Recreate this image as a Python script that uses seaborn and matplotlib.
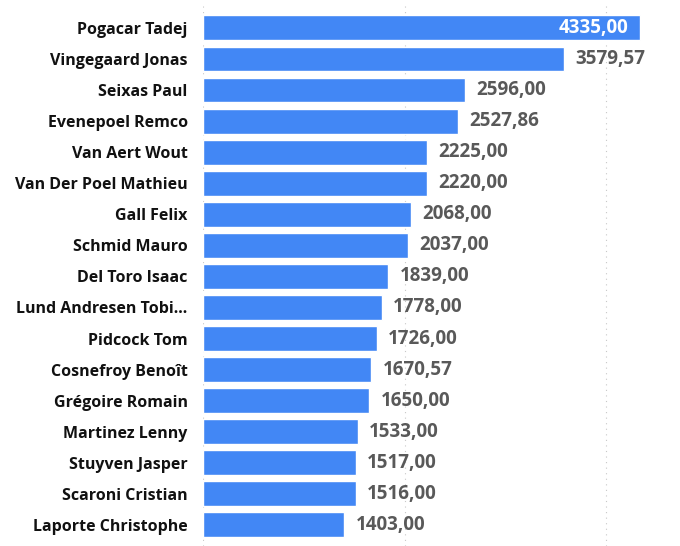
import matplotlib
matplotlib.use("Agg")
import matplotlib.pyplot as plt
import seaborn as sns
import pandas as pd

riders = [
    "Pogacar Tadej", "Vingegaard Jonas", "Seixas Paul", "Evenepoel Remco",
    "Van Aert Wout", "Van Der Poel Mathieu", "Gall Felix", "Schmid Mauro",
    "Del Toro Isaac", "Lund Andresen Tobi…", "Pidcock Tom", "Cosnefroy Benoît",
    "Grégoire Romain", "Martinez Lenny", "Stuyven Jasper", "Scaroni Cristian",
    "Laporte Christophe",
]
points = [
    4335.00, 3579.57, 2596.00, 2527.86, 2225.00, 2220.00, 2068.00, 2037.00,
    1839.00, 1778.00, 1726.00, 1670.57, 1650.00, 1533.00, 1517.00, 1516.00,
    1403.00,
]

df = pd.DataFrame({"rider": riders, "points": points})

sns.set_theme(style="white")
plt.rcParams["font.family"] = ["Open Sans", "DejaVu Sans"]

fig = plt.figure(figsize=(6.8, 5.46), dpi=100)
ax = fig.add_axes([203 / 680, 0, 1 - 203 / 680, 542 / 546])

sns.barplot(data=df, x="points", y="rider", color="#4287f5", saturation=1,
            width=0.8, ax=ax)

ax.set_xlim(0, 4732)
ax.set_ylim(16.68, -0.77)
ax.set_xticks([0, 2000, 4000])
ax.xaxis.grid(True, linestyle=(0, (1, 4)), color="#c8c8c8", linewidth=0.8)
ax.set_axisbelow(True)
ax.set_xticklabels([])
ax.tick_params(axis="x", length=0)
ax.tick_params(axis="y", length=0, pad=11)
for lbl in ax.get_yticklabels():
    lbl.set_fontweight("bold")
    lbl.set_fontsize(11.5)
    lbl.set_color("#111111")
ax.set_xlabel("")
ax.set_ylabel("")
for s in ax.spines.values():
    s.set_visible(False)

# value labels
for i, v in enumerate(points):
    txt = f"{v:.2f}".replace(".", ",")
    if i == 0:
        ax.annotate(txt, (v, i), xytext=(-8, 0), textcoords="offset points",
                    ha="right", va="center", color="white",
                    fontsize=13.5, fontweight="bold")
    else:
        ax.annotate(txt, (v, i), xytext=(8, 0), textcoords="offset points",
                    ha="left", va="center", color="#595959",
                    fontsize=13.5, fontweight="bold")

fig.savefig("out.png", dpi=100)
